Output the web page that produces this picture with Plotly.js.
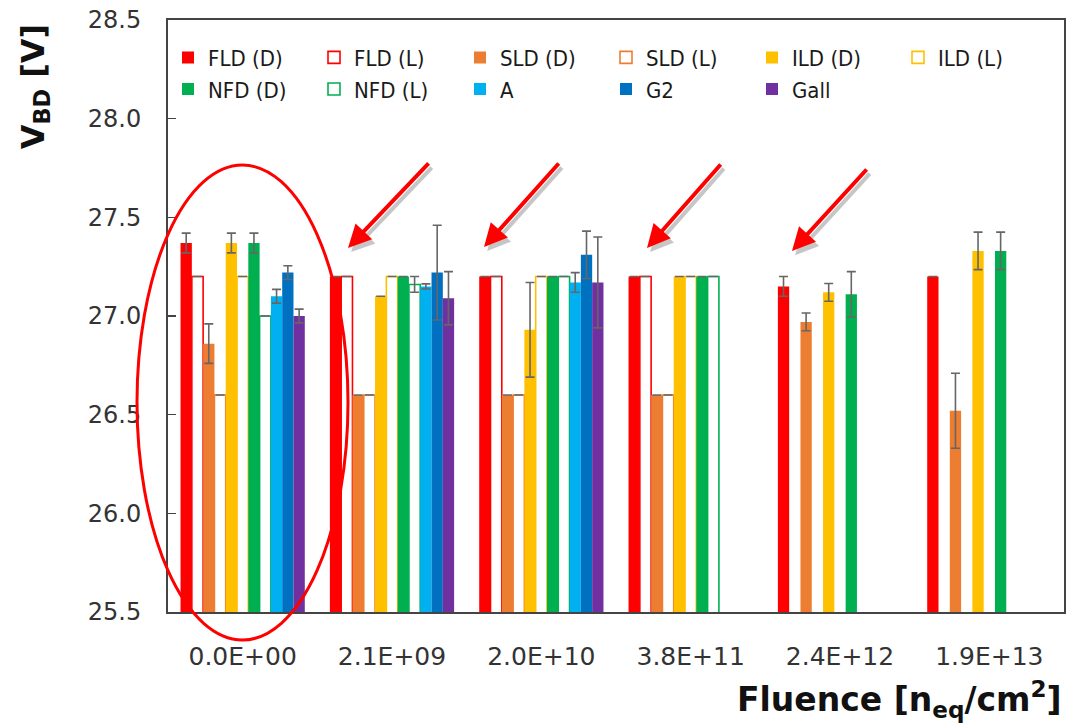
<!DOCTYPE html>
<html>
<head>
<meta charset="utf-8">
<script src="https://cdn.plot.ly/plotly-3.0.1.min.js"></script>
<style>
  html, body { margin: 0; padding: 0; background: #ffffff; }
  #chart { width: 1077px; height: 727px; }
</style>
</head>
<body>
<div id="chart"></div>
<script>
// ---- Data ----
const categories = ['0.0E+00', '2.1E+09', '2.0E+10', '3.8E+11', '2.4E+12', '1.9E+13'];

const fldD    = [27.37, 27.20, 27.20, 27.20, 27.15, 27.20];
const fldDErr = [0.05, 0, 0, 0, 0.05, 0];
const fldL    = [27.20, 27.20, 27.20, 27.20, null, null];
const fldLErr = [0, 0, 0, 0, 0, 0];
const sldD    = [26.86, 26.60, 26.60, 26.60, 26.97, 26.52];
const sldDErr = [0.10, 0, 0, 0, 0.045, 0.19];
const sldL    = [26.60, 26.60, 26.60, 26.60, null, null];
const sldLErr = [0, 0, 0, 0, 0, 0];
const ildD    = [27.37, 27.10, 26.93, 27.20, 27.12, 27.33];
const ildDErr = [0.05, 0, 0.24, 0, 0.045, 0.095];
const ildL    = [27.20, 27.20, 27.20, 27.20, null, null];
const ildLErr = [0, 0, 0, 0, 0, 0];
const nfdD    = [27.37, 27.20, 27.20, 27.20, 27.11, 27.33];
const nfdDErr = [0.05, 0, 0, 0, 0.115, 0.095];
const nfdL    = [27.00, 27.16, 27.20, 27.20, null, null];
const nfdLErr = [0, 0.04, 0, 0, 0, 0];
const aVals   = [27.10, 27.15, 27.17, null, null, null];
const aErr    = [0.035, 0.013, 0.05, 0, 0, 0];
const g2Vals  = [27.22, 27.22, 27.31, null, null, null];
const g2Err   = [0.035, 0.24, 0.12, 0, 0, 0];
const gallVals = [27.00, 27.09, 27.17, null, null, null];
const gallErr  = [0.035, 0.135, 0.23, 0, 0, 0];

const yTickVals = [25.5, 26.0, 26.5, 27.0, 27.5, 28.0, 28.5];
const yTickText = ['25.5', '26.0', '26.5', '27.0', '27.5', '28.0', '28.5'];

// ---- Styles ----
const RED = '#FF0000', ORANGE = '#ED7D31', YELLOW = '#FFC000', GREEN = '#00B050',
      LBLUE = '#00B0F0', BLUE = '#0070C0', PURPLE = '#7030A0';
const ERRCOL = '#666666';

function series(name, y, err, color, hollow) {
  return {
    type: 'bar',
    name: name,
    x: categories,
    y: y,
    error_y: { type: 'data', array: err, visible: true, color: ERRCOL, thickness: 1.6, width: 4.5 },
    marker: hollow
      ? { color: '#ffffff', line: { color: color, width: 1.6 } }
      : { color: color, line: { color: color, width: 0 } },
    hoverinfo: 'x+y+name'
  };
}

const data = [
  series('FLD (D)', fldD, fldDErr, RED, false),
  series('FLD (L)', fldL, fldLErr, RED, true),
  series('SLD (D)', sldD, sldDErr, ORANGE, false),
  series('SLD (L)', sldL, sldLErr, ORANGE, true),
  series('ILD (D)', ildD, ildDErr, YELLOW, false),
  series('ILD (L)', ildL, ildLErr, YELLOW, true),
  series('NFD (D)', nfdD, nfdDErr, GREEN, false),
  series('NFD (L)', nfdL, nfdLErr, GREEN, true),
  series('A', aVals, aErr, LBLUE, false),
  series('G2', g2Vals, g2Err, BLUE, false),
  series('Gall', gallVals, gallErr, PURPLE, false)
];

// arrows: tip (paper) and tail offset (px)
const arrowDefs = [
  { x: 0.2009, y: 0.6149, ax: 82, ay: -86 },
  { x: 0.3527, y: 0.6166, ax: 76, ay: -85 },
  { x: 0.5346, y: 0.6149, ax: 75, ay: -85 },
  { x: 0.6964, y: 0.6098, ax: 76, ay: -83 }
];
const annotations = [];
arrowDefs.forEach(a => {
  annotations.push({
    xref: 'paper', yref: 'paper', x: a.x + 0.0035, y: a.y - 0.007, ax: a.ax, ay: a.ay,
    text: '', showarrow: true, arrowhead: 2, arrowsize: 1.15, arrowwidth: 4,
    arrowcolor: 'rgba(0,0,0,0.22)'
  });
});
arrowDefs.forEach(a => {
  annotations.push({
    xref: 'paper', yref: 'paper', x: a.x, y: a.y, ax: a.ax, ay: a.ay,
    text: '', showarrow: true, arrowhead: 2, arrowsize: 1.15, arrowwidth: 4,
    arrowcolor: RED
  });
});
annotations.push({
  xref: 'paper', yref: 'paper', x: -0.1484, y: 0.888,
  xanchor: 'center', yanchor: 'middle', textangle: -90, showarrow: false,
  text: '<b>V<sub>BD</sub> [V]</b>',
  font: { family: 'DejaVu Sans, sans-serif', size: 32, color: '#111111' }
});
annotations.push({
  xref: 'paper', yref: 'paper', x: 1.0, y: -0.148,
  xanchor: 'right', yanchor: 'middle', showarrow: false,
  text: '<b>Fluence [n<sub>eq</sub>/cm<sup>2</sup>]</b>',
  font: { family: 'DejaVu Sans, sans-serif', size: 33, color: '#111111' }
});

const layout = {
  width: 1077,
  height: 727,
  margin: { l: 168, r: 13, t: 20, b: 115, pad: 0 },
  paper_bgcolor: '#ffffff',
  plot_bgcolor: '#ffffff',
  barmode: 'group',
  bargap: 0.168,
  bargroupgap: 0,
  showlegend: true,
  legend: {
    orientation: 'h',
    x: 0, y: 0.972, xanchor: 'left', yanchor: 'top',
    entrywidth: 101, entrywidthmode: 'pixels',
    font: { family: 'DejaVu Sans Condensed, DejaVu Sans, sans-serif', size: 22, color: '#1a1a1a' },
    bgcolor: 'rgba(0,0,0,0)',
    itemwidth: 30,
    traceorder: 'normal'
  },
  xaxis: {
    type: 'category',
    showline: true, linecolor: '#444444', linewidth: 2, mirror: true,
    ticks: '', showgrid: false, zeroline: false,
    tickfont: { family: 'DejaVu Sans, sans-serif', size: 25, color: '#333333' },
    ticklabelstandoff: 21
  },
  yaxis: {
    range: [25.5, 28.5],
    tickvals: yTickVals, ticktext: yTickText,
    showline: true, linecolor: '#444444', linewidth: 2, mirror: true,
    ticks: 'inside', ticklen: 8, tickcolor: '#444444', tickwidth: 1.5,
    showgrid: false, zeroline: false,
    tickfont: { family: 'DejaVu Sans, sans-serif', size: 24, color: '#333333' },
    ticklabelstandoff: 20
  },
  shapes: [
    {
      type: 'circle', xref: 'paper', yref: 'paper',
      x0: -0.0346, x1: 0.2009, y0: -0.0473, y1: 0.755,
      line: { color: RED, width: 3 }, fillcolor: 'rgba(0,0,0,0)', layer: 'above'
    }
  ],
  annotations: annotations
};

Plotly.newPlot('chart', data, layout, { displayModeBar: false, staticPlot: true });
</script>
</body>
</html>
